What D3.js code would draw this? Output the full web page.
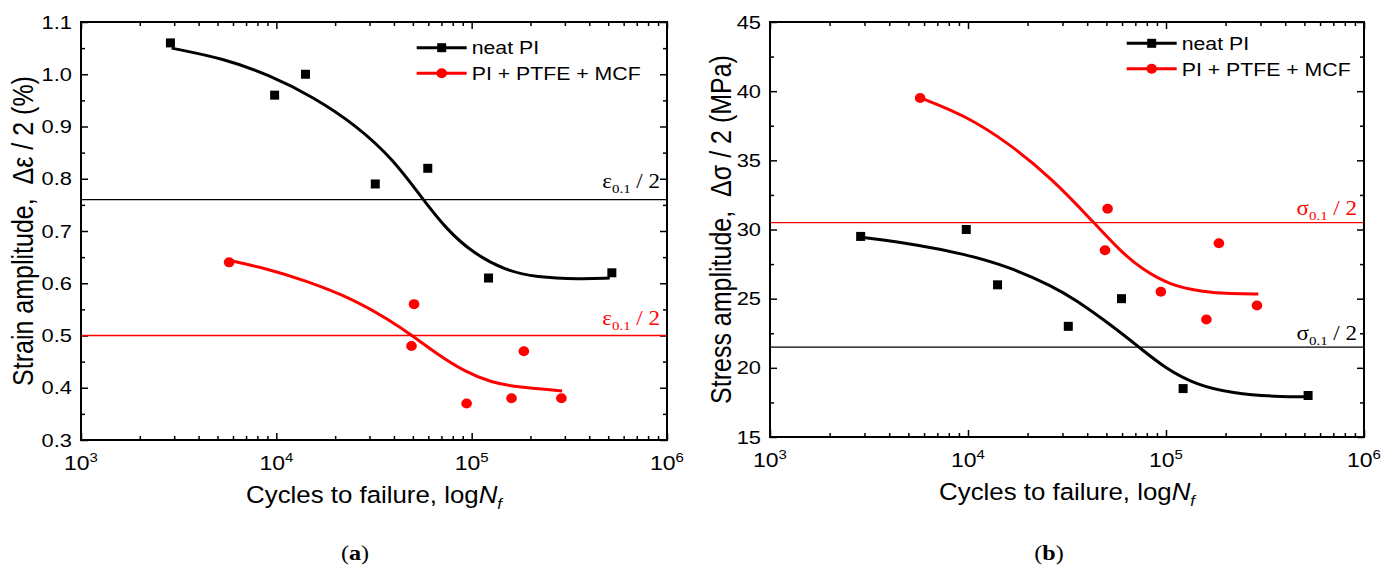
<!DOCTYPE html>
<html>
<head>
<meta charset="utf-8">
<script src="https://cdn.jsdelivr.net/npm/d3@7"></script>
<style>
  body { margin: 0; background: #fff; }
  svg { display: block; }
  text { font-family: "Liberation Sans", Arial, sans-serif; fill: #000; }
  .serif { font-family: "Liberation Serif", "Times New Roman", serif; }
</style>
</head>
<body>
<svg id="chart" width="1397" height="572"></svg>
<script>
// Measured points (cycles to failure vs amplitude)
const neatCycles = [2870, 9800, 14100, 32100, 59600, 122000, 522000];
const neatStrain = [1.06, 0.96, 1.00, 0.79, 0.82, 0.61, 0.62];
const neatStress = [29.5, 30.0, 26.0, 23.0, 25.0, 18.5, 18.0];

const compCycles = [5730, 50700, 49200, 94200, 160000, 185000, 288000];
const compStrain = [0.64, 0.56, 0.48, 0.37, 0.38, 0.47, 0.38];
const compStress = [39.5, 31.5, 28.5, 25.5, 23.5, 29.0, 24.5];

// Fitted curves (x in log10 cycles)
const fitNeatStrainLog = [3.464, 3.731, 3.96, 4.188, 4.417, 4.6, 4.736, 4.873, 5.01, 5.17, 5.33, 5.559, 5.707];
const fitNeatStrain    = [1.050, 1.030, 0.999, 0.957, 0.900, 0.836, 0.768, 0.702, 0.657, 0.625, 0.611, 0.608, 0.610];
const fitCompStrainLog = [3.758, 3.96, 4.142, 4.394, 4.576, 4.70, 4.828, 4.965, 5.10, 5.24, 5.463];
const fitCompStrain    = [0.644, 0.627, 0.606, 0.570, 0.530, 0.499, 0.463, 0.431, 0.410, 0.401, 0.394];
const fitNeatStressLog = [3.462, 3.756, 3.981, 4.207, 4.432, 4.545, 4.703, 4.861, 4.996, 5.154, 5.335, 5.56, 5.718];
const fitNeatStress    = [29.44, 28.88, 28.23, 27.31, 25.87, 24.90, 23.30, 21.53, 19.97, 18.76, 18.16, 17.91, 17.91];
const fitCompStressLog = [3.758, 3.981, 4.207, 4.432, 4.631, 4.771, 4.884, 5.019, 5.177, 5.335, 5.466];
const fitCompStress    = [39.53, 38.28, 36.24, 33.58, 30.57, 28.40, 27.08, 25.99, 25.51, 25.34, 25.34];

// Threshold lines (eps_0.1/2, sigma_0.1/2)
const strainRefs = [0.76, 0.50];
const stressRefs = [30.5, 21.5];

// Axes
const cycleTicks = [1e3, 1e4, 1e5, 1e6];
const cycleExps  = ["3", "4", "5", "6"];
const cycleMinor = [2e3, 3e3, 4e3, 5e3, 6e3, 7e3, 8e3, 9e3,
                    2e4, 3e4, 4e4, 5e4, 6e4, 7e4, 8e4, 9e4,
                    2e5, 3e5, 4e5, 5e5, 6e5, 7e5, 8e5, 9e5];
const strainTicks = [0.3, 0.4, 0.5, 0.6, 0.7, 0.8, 0.9, 1.0, 1.1];
const strainMinor = [0.35, 0.45, 0.55, 0.65, 0.75, 0.85, 0.95, 1.05];
const stressTicks = [15, 20, 25, 30, 35, 40, 45];
const stressMinor = [17.5, 22.5, 27.5, 32.5, 37.5, 42.5];

const seriesNames = ["neat PI", "PI + PTFE + MCF"];

const RED = "#ff0000";
const STRETCH = 1.15;   // the source figure is a bit wider than its fonts

const svg = d3.select("#chart");
svg.append("rect").attr("width", 1397).attr("height", 572).attr("fill", "#fff");

function drawPanel({
  left, top, width, height,
  yDomain, yTicks, yMinor, yFormat,
  yTitle, yTitleX,
  series, refs,
  legendX, legendY,
  tag, tagX
}) {
  const x = d3.scaleLog().domain([1e3, 1e6]).range([0, width]);
  const y = d3.scaleLinear().domain(yDomain).range([height, 0]);
  const g = svg.append("g").attr("transform", `translate(${left},${top})`);

  // inward ticks on all four sides
  const tickLayer = (axis, pos, values, size) => {
    g.append("g")
      .attr("transform", pos)
      .call(axis.tickValues(values).tickSize(-size).tickFormat(""))
      .call(a => a.select(".domain").remove())
      .selectAll("line").attr("stroke", "#000").attr("stroke-width", 1.5);
  };
  tickLayer(d3.axisBottom(x), `translate(0,${height})`, cycleTicks, 7);
  tickLayer(d3.axisBottom(x), `translate(0,${height})`, cycleMinor, 4);
  tickLayer(d3.axisTop(x), "translate(0,0)", cycleTicks, 7);
  tickLayer(d3.axisTop(x), "translate(0,0)", cycleMinor, 4);
  tickLayer(d3.axisLeft(y), "translate(0,0)", yTicks, 7);
  tickLayer(d3.axisLeft(y), "translate(0,0)", yMinor, 4);
  tickLayer(d3.axisRight(y), `translate(${width},0)`, yTicks, 7);
  tickLayer(d3.axisRight(y), `translate(${width},0)`, yMinor, 4);

  // y tick labels
  g.selectAll(".ylab")
    .data(yTicks)
    .join("text")
    .attr("class", "ylab")
    .attr("transform", d => `translate(-9,${y(d) + 6.5}) scale(${STRETCH},1)`)
    .attr("text-anchor", "end")
    .attr("font-size", 19)
    .text(d => d3.format(yFormat)(d));

  // x tick labels 10^n
  const xl = g.selectAll(".xlab")
    .data(cycleTicks)
    .join("text")
    .attr("class", "xlab")
    .attr("transform", d => `translate(${x(d)},${height + 30}) scale(${STRETCH},1)`)
    .attr("text-anchor", "middle")
    .attr("font-size", 20);
  xl.append("tspan").text("10");
  xl.append("tspan").attr("dy", -8).attr("font-size", 13).text((d, i) => cycleExps[i]);

  // x title
  const xt = g.append("text")
    .attr("transform", `translate(${width / 2},${height + 63}) scale(1.1,1)`)
    .attr("text-anchor", "middle")
    .attr("font-size", 23.5)
    .text("Cycles to failure, log");
  xt.append("tspan").attr("font-style", "italic").text("N");
  xt.append("tspan").attr("font-style", "italic").attr("font-size", 15).attr("dy", 6).text("f");

  // y title
  svg.append("text")
    .attr("transform", `translate(${yTitleX},${top + height / 2}) rotate(-90) scale(1,${STRETCH})`)
    .attr("text-anchor", "middle")
    .attr("font-size", 25)
    .text(yTitle);

  // threshold lines + labels
  refs.forEach(r => {
    g.append("line")
      .attr("x1", 0).attr("x2", width)
      .attr("y1", y(r.value)).attr("y2", y(r.value))
      .attr("stroke", r.color).attr("stroke-width", 1.4);
    const t = g.append("text")
      .attr("class", "serif")
      .attr("transform", `translate(${width - 7},${y(r.value) - r.gap}) scale(${STRETCH},1)`)
      .attr("text-anchor", "end")
      .attr("font-size", 20)
      .style("fill", r.color);
    t.append("tspan").text(r.sym);
    t.append("tspan").attr("font-size", 13).attr("dy", 5).text("0.1");
    t.append("tspan").attr("dy", -5).text(" / 2");
  });

  // frame
  g.append("rect")
    .attr("width", width).attr("height", height)
    .attr("fill", "none").attr("stroke", "#000").attr("stroke-width", 2);

  // fitted curves
  const line = d3.line()
    .x(d => x(Math.pow(10, d[0])))
    .y(d => y(d[1]))
    .curve(d3.curveBasis);
  series.forEach(s => {
    g.append("path")
      .datum(d3.zip(s.fitLog, s.fitVal))
      .attr("d", line)
      .attr("fill", "none")
      .attr("stroke", s.color)
      .attr("stroke-width", 3);
  });

  // markers
  series.forEach(s => {
    const pts = d3.zip(s.cycles, s.values);
    if (s.shape === "square") {
      g.selectAll(null).data(pts).join("rect")
        .attr("x", d => x(d[0]) - 4.5).attr("y", d => y(d[1]) - 4.5)
        .attr("width", 9).attr("height", 9)
        .attr("fill", s.color);
    } else {
      g.selectAll(null).data(pts).join("ellipse")
        .attr("cx", d => x(d[0])).attr("cy", d => y(d[1]))
        .attr("rx", 5.3).attr("ry", 5)
        .attr("fill", s.color);
    }
  });

  // legend
  series.forEach((s, i) => {
    const ly = legendY + i * 25.5;
    const lg = svg.append("g").attr("transform", `translate(${legendX},${ly})`);
    lg.append("line").attr("x1", 0).attr("x2", 50)
      .attr("stroke", s.color).attr("stroke-width", 3);
    if (s.shape === "square")
      lg.append("rect").attr("x", 20.5).attr("y", -4.5).attr("width", 9).attr("height", 9).attr("fill", s.color);
    else
      lg.append("ellipse").attr("cx", 25).attr("rx", 5.3).attr("ry", 5).attr("fill", s.color);
    lg.append("text")
      .attr("transform", `translate(55,6.7) scale(${STRETCH},1)`)
      .attr("font-size", 18.5)
      .text(seriesNames[i]);
  });

  // panel tag (a)/(b)
  const tg = svg.append("text")
    .attr("class", "serif")
    .attr("transform", `translate(${tagX},560) scale(${STRETCH},1)`)
    .attr("text-anchor", "middle")
    .attr("font-size", 21);
  tg.append("tspan").text("(");
  tg.append("tspan").attr("font-weight", "bold").text(tag);
  tg.append("tspan").text(")");
}

drawPanel({
  left: 81, top: 22, width: 586, height: 418,
  yDomain: [0.3, 1.1], yTicks: strainTicks, yMinor: strainMinor, yFormat: ".1f",
  yTitle: "Strain amplitude,\u00a0 \u0394\u03b5 / 2 (%)", yTitleX: 33,
  series: [
    { cycles: neatCycles, values: neatStrain, fitLog: fitNeatStrainLog, fitVal: fitNeatStrain, color: "#000", shape: "square" },
    { cycles: compCycles, values: compStrain, fitLog: fitCompStrainLog, fitVal: fitCompStrain, color: RED, shape: "circle" }
  ],
  refs: [
    { value: strainRefs[0], color: "#000", sym: "\u03b5", gap: 11.5 },
    { value: strainRefs[1], color: RED, sym: "\u03b5", gap: 10.5 }
  ],
  legendX: 416.7, legendY: 47.7,
  tag: "a", tagX: 355
});

drawPanel({
  left: 770, top: 22, width: 594, height: 415,
  yDomain: [15, 45], yTicks: stressTicks, yMinor: stressMinor, yFormat: "d",
  yTitle: "Stress amplitude,\u00a0 \u0394\u03c3 / 2 (MPa)", yTitleX: 731,
  series: [
    { cycles: neatCycles, values: neatStress, fitLog: fitNeatStressLog, fitVal: fitNeatStress, color: "#000", shape: "square" },
    { cycles: compCycles, values: compStress, fitLog: fitCompStressLog, fitVal: fitCompStress, color: RED, shape: "circle" }
  ],
  refs: [
    { value: stressRefs[0], color: RED, sym: "\u03c3", gap: 7.5 },
    { value: stressRefs[1], color: "#000", sym: "\u03c3", gap: 7 }
  ],
  legendX: 1126.7, legendY: 43.3,
  tag: "b", tagX: 1049
});
</script>
</body>
</html>
